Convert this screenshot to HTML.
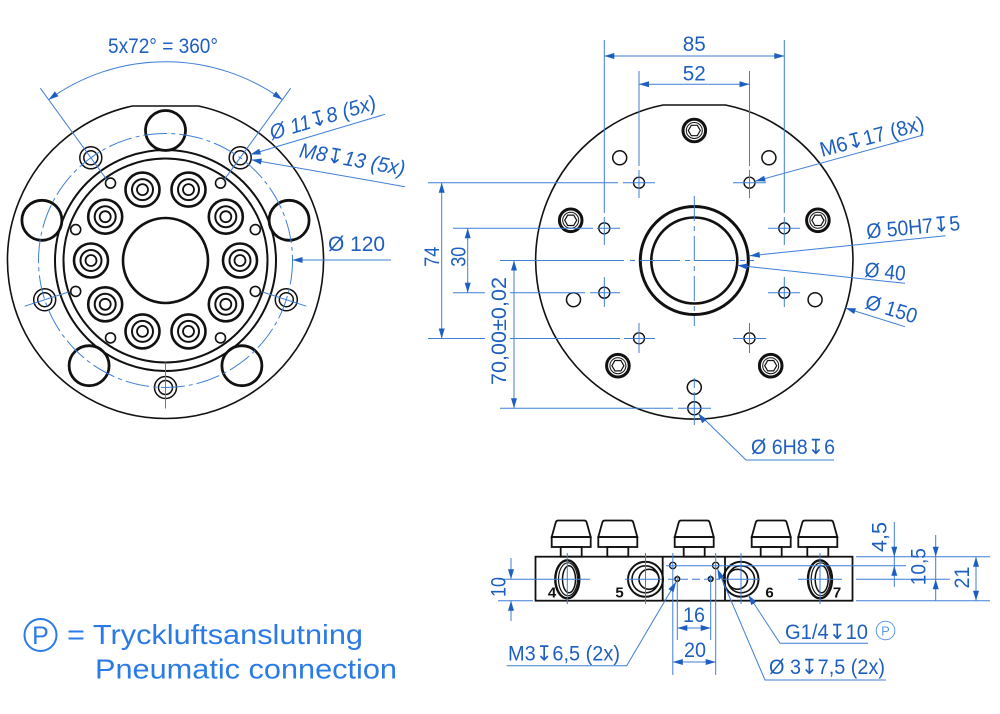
<!DOCTYPE html>
<html><head><meta charset="utf-8"><style>
html,body{margin:0;padding:0;background:#fff;}
svg{display:block;}
text{font-family:"Liberation Sans","DejaVu Sans",sans-serif;}
</style></head><body>
<svg width="1000" height="714" viewBox="0 0 1000 714" xmlns="http://www.w3.org/2000/svg">
<rect width="1000" height="714" fill="#fff"/>

<!-- ================= LEFT VIEW ================= -->
<g fill="none" stroke="#111">
  <path d="M132.4,106 L198.6,106 A158,158 0 1,1 132.4,106 Z" stroke-width="1.6"/>
  <circle cx="165.5" cy="260.5" r="110.5" stroke-width="2"/>
  <circle cx="165.5" cy="260.5" r="102" stroke-width="2"/>
  <circle cx="165.5" cy="260.5" r="42.5" stroke-width="2.6"/>
  <g stroke-width="2.8">
    <circle cx="165.5" cy="130.5" r="20"/>
    <circle cx="289.1" cy="220.3" r="20"/>
    <circle cx="241.9" cy="365.7" r="20"/>
    <circle cx="89.1" cy="365.7" r="20"/>
    <circle cx="41.9" cy="220.3" r="20"/>
  </g>
  <g stroke-width="1.5">
    <circle cx="240.2" cy="157.8" r="11"/><circle cx="240.2" cy="157.8" r="7"/>
    <circle cx="286.3" cy="299.7" r="11"/><circle cx="286.3" cy="299.7" r="7"/>
    <circle cx="165.5" cy="387.5" r="11"/><circle cx="165.5" cy="387.5" r="7"/>
    <circle cx="44.7" cy="299.7" r="11"/><circle cx="44.7" cy="299.7" r="7"/>
    <circle cx="90.8" cy="157.8" r="11"/><circle cx="90.8" cy="157.8" r="7"/>
  </g>
  <g stroke-width="1.6">
    <circle cx="255.3" cy="229.6" r="5"/><circle cx="255.3" cy="291.4" r="5"/>
    <circle cx="75.7" cy="229.6" r="5"/><circle cx="75.7" cy="291.4" r="5"/>
    <circle cx="220.5" cy="183.1" r="5"/><circle cx="110.5" cy="183.1" r="5"/>
    <circle cx="110.5" cy="337.9" r="5"/><circle cx="220.5" cy="337.9" r="5"/>
  </g>
  <g>
    <g transform="translate(240,260.5)"><circle r="17" stroke-width="2.6"/><circle r="10.5" stroke-width="2"/><circle r="5.5" stroke-width="1.8"/></g>
    <g transform="translate(225.8,216.7)"><circle r="17" stroke-width="2.6"/><circle r="10.5" stroke-width="2"/><circle r="5.5" stroke-width="1.8"/></g>
    <g transform="translate(188.5,189.6)"><circle r="17" stroke-width="2.6"/><circle r="10.5" stroke-width="2"/><circle r="5.5" stroke-width="1.8"/></g>
    <g transform="translate(142.5,189.6)"><circle r="17" stroke-width="2.6"/><circle r="10.5" stroke-width="2"/><circle r="5.5" stroke-width="1.8"/></g>
    <g transform="translate(105.2,216.7)"><circle r="17" stroke-width="2.6"/><circle r="10.5" stroke-width="2"/><circle r="5.5" stroke-width="1.8"/></g>
    <g transform="translate(91,260.5)"><circle r="17" stroke-width="2.6"/><circle r="10.5" stroke-width="2"/><circle r="5.5" stroke-width="1.8"/></g>
    <g transform="translate(105.2,304.3)"><circle r="17" stroke-width="2.6"/><circle r="10.5" stroke-width="2"/><circle r="5.5" stroke-width="1.8"/></g>
    <g transform="translate(142.5,331.4)"><circle r="17" stroke-width="2.6"/><circle r="10.5" stroke-width="2"/><circle r="5.5" stroke-width="1.8"/></g>
    <g transform="translate(188.5,331.4)"><circle r="17" stroke-width="2.6"/><circle r="10.5" stroke-width="2"/><circle r="5.5" stroke-width="1.8"/></g>
    <g transform="translate(225.8,304.3)"><circle r="17" stroke-width="2.6"/><circle r="10.5" stroke-width="2"/><circle r="5.5" stroke-width="1.8"/></g>
  </g>
</g>
<g fill="none" stroke="#3f7fd6" stroke-width="1">
  <circle cx="165.5" cy="260.5" r="127" stroke-dasharray="24 4 4 4"/>
  <line x1="224.3" y1="179.6" x2="290.7" y2="88.2"/>
  <line x1="106.7" y1="179.6" x2="40.3" y2="88.2"/>
  <line x1="262.5" y1="292" x2="306.3" y2="306.2"/>
  <line x1="68.5" y1="292" x2="24.7" y2="306.2"/>
  <line x1="165.5" y1="362.5" x2="165.5" y2="408.5"/>
  <path d="M48.6,99.7 A198.8,198.8 0 0,1 282.4,99.7"/>
  <line x1="292.5" y1="260" x2="391" y2="260"/>
  <line x1="250.5" y1="154.5" x2="385" y2="114.3"/>
  <line x1="251.5" y1="159.8" x2="405" y2="186.7"/>
</g>
<g fill="#1d5fc0" stroke="none">
  <polygon points="48.6,99.7 54.9,91.4 58.5,96.2"/>
  <polygon points="282.4,99.7 272.5,96.2 276.1,91.4"/>
  <polygon points="292.5,260 302.5,257 302.5,263"/>
  <polygon points="250.5,154.5 259.2,148.7 261,154.5"/>
  <polygon points="251.5,159.8 261.9,158.5 260.9,164.5"/>
</g>
<g fill="#1d5fc0" font-size="21">
  <text x="108" y="53" textLength="110" lengthAdjust="spacingAndGlyphs">5x72° = 360°</text>
  <text x="328" y="251" textLength="57" lengthAdjust="spacingAndGlyphs">Ø 120</text>
  <text transform="translate(272,140) rotate(-16.5)" font-style="italic" textLength="110" lengthAdjust="spacingAndGlyphs">Ø 11↧8 (5x)</text>
  <text transform="translate(298.5,157) rotate(10)" font-style="italic" textLength="107" lengthAdjust="spacingAndGlyphs">M8↧13 (5x)</text>
</g>

<!-- ================= RIGHT VIEW ================= -->
<g fill="none" stroke="#111">
  <path d="M663.1,105 L725.5,105 A158.6,158.6 0 1,1 663.1,105 Z" stroke-width="1.6"/>
  <circle cx="694.3" cy="260.5" r="54" stroke-width="3"/>
  <circle cx="694.3" cy="260.5" r="43" stroke-width="2.6"/>
  <g>
    <g transform="translate(694.3,130.5)"><circle r="11.3" stroke-width="3"/><circle r="8" stroke-width="1"/><polygon points="6,0 3,5.2 -3,5.2 -6,0 -3,-5.2 3,-5.2" stroke-width="1.2"/></g>
    <g transform="translate(817.9,220.3)"><circle r="11.3" stroke-width="3"/><circle r="8" stroke-width="1"/><polygon points="6,0 3,5.2 -3,5.2 -6,0 -3,-5.2 3,-5.2" stroke-width="1.2"/></g>
    <g transform="translate(770.7,365.7)"><circle r="11.3" stroke-width="3"/><circle r="8" stroke-width="1"/><polygon points="6,0 3,5.2 -3,5.2 -6,0 -3,-5.2 3,-5.2" stroke-width="1.2"/></g>
    <g transform="translate(617.9,365.7)"><circle r="11.3" stroke-width="3"/><circle r="8" stroke-width="1"/><polygon points="6,0 3,5.2 -3,5.2 -6,0 -3,-5.2 3,-5.2" stroke-width="1.2"/></g>
    <g transform="translate(570.7,220.3)"><circle r="11.3" stroke-width="3"/><circle r="8" stroke-width="1"/><polygon points="6,0 3,5.2 -3,5.2 -6,0 -3,-5.2 3,-5.2" stroke-width="1.2"/></g>
  </g>
  <g stroke-width="1.5">
    <circle cx="768.9" cy="157.8" r="7"/><circle cx="619.7" cy="157.8" r="7"/>
    <circle cx="815.1" cy="299.7" r="7"/><circle cx="573.5" cy="299.7" r="7"/>
    <circle cx="694.3" cy="387.3" r="7"/>
    <circle cx="694.3" cy="408.3" r="6.5"/>
  </g>
  <g stroke-width="1.4">
    <circle cx="639" cy="182.7" r="5.5"/><circle cx="749.5" cy="182.7" r="5.5"/>
    <circle cx="604.3" cy="228.3" r="5.5"/><circle cx="784.3" cy="228.3" r="5.5"/>
    <circle cx="604.3" cy="292.7" r="5.5"/><circle cx="784.3" cy="292.7" r="5.5"/>
    <circle cx="639" cy="338.3" r="5.5"/><circle cx="749.5" cy="338.3" r="5.5"/>
  </g>
</g>
<g fill="none" stroke="#3f7fd6" stroke-width="1">
  <line x1="604.3" y1="40" x2="604.3" y2="213"/><line x1="604.3" y1="217" x2="604.3" y2="245"/><line x1="604.3" y1="277" x2="604.3" y2="307"/>
  <line x1="784.3" y1="40" x2="784.3" y2="213"/><line x1="784.3" y1="217" x2="784.3" y2="245"/><line x1="784.3" y1="277" x2="784.3" y2="307"/>
  <line x1="639" y1="71" x2="639" y2="166"/><line x1="639" y1="170" x2="639" y2="198"/><line x1="639" y1="323" x2="639" y2="353"/>
  <line x1="749.5" y1="71" x2="749.5" y2="166"/><line x1="749.5" y1="170" x2="749.5" y2="198"/><line x1="749.5" y1="323" x2="749.5" y2="353"/>
  <line x1="428" y1="182.7" x2="618" y2="182.7"/><line x1="623" y1="182.7" x2="655" y2="182.7"/><line x1="733" y1="182.7" x2="766" y2="182.7"/>
  <line x1="453" y1="228.3" x2="593" y2="228.3"/><line x1="597" y1="228.3" x2="620" y2="228.3"/><line x1="768" y1="228.3" x2="800" y2="228.3"/>
  <line x1="453" y1="292.7" x2="485" y2="292.7"/><line x1="510" y1="292.7" x2="585" y2="292.7"/><line x1="590" y1="292.7" x2="620" y2="292.7"/><line x1="768" y1="292.7" x2="800" y2="292.7"/>
  <line x1="428" y1="338.5" x2="485" y2="338.5"/><line x1="510" y1="338.5" x2="620" y2="338.5"/><line x1="624" y1="338.5" x2="655" y2="338.5"/><line x1="733" y1="338.5" x2="766" y2="338.5"/>
  <line x1="500" y1="260.5" x2="624" y2="260.5"/>
  <line x1="630" y1="260.5" x2="754" y2="260.5" stroke-dasharray="5 5 40 5 5 5 40 5"/>
  <line x1="694.3" y1="196" x2="694.3" y2="326" stroke-dasharray="25 5 5 5"/>
  <line x1="500" y1="408.3" x2="673" y2="408.3"/><line x1="678" y1="408.3" x2="711" y2="408.3"/>
  <line x1="694.3" y1="378" x2="694.3" y2="388"/><line x1="694.3" y1="392" x2="694.3" y2="425"/>
  <line x1="604.3" y1="56" x2="784.3" y2="56"/>
  <line x1="639" y1="84.3" x2="749.5" y2="84.3"/>
  <line x1="441.7" y1="182.7" x2="441.7" y2="338.5"/>
  <line x1="467.7" y1="228.3" x2="467.7" y2="292.7"/>
  <line x1="514" y1="260.5" x2="514" y2="408.3"/>
  <line x1="755.3" y1="181.2" x2="923.3" y2="135"/>
  <line x1="749.8" y1="255.8" x2="945.5" y2="235.7"/>
  <line x1="737.5" y1="265.4" x2="905" y2="283.3"/>
  <line x1="845.6" y1="308.1" x2="905" y2="326.7"/>
  <polyline points="698.3,413.4 746,460 834,460"/>
</g>
<g fill="#1d5fc0" stroke="none">
  <polygon points="604.3,56 614.3,53 614.3,59"/><polygon points="784.3,56 774.3,53 774.3,59"/>
  <polygon points="639,84.3 649,81.3 649,87.3"/><polygon points="749.5,84.3 739.5,81.3 739.5,87.3"/>
  <polygon points="441.7,182.7 438.7,192.7 444.7,192.7"/><polygon points="441.7,338.5 438.7,328.5 444.7,328.5"/>
  <polygon points="467.7,228.3 464.7,238.3 470.7,238.3"/><polygon points="467.7,292.7 464.7,282.7 470.7,282.7"/>
  <polygon points="514,260.5 511,270.5 517,270.5"/><polygon points="514,408.3 511,398.3 517,398.3"/>
  <polygon points="755.3,181.2 764.1,175.7 765.7,181.5"/>
  <polygon points="749.8,255.8 759.4,251.8 760,257.8"/>
  <polygon points="737.5,265.4 747.7,263.5 747.1,269.5"/>
  <polygon points="845.6,308.1 856,308.2 854.2,314"/>
  <polygon points="698.3,413.4 706.9,419.4 702.1,423.2"/>
</g>
<g fill="#1d5fc0" font-size="21">
  <text x="694.3" y="51" text-anchor="middle" textLength="23" lengthAdjust="spacingAndGlyphs">85</text>
  <text x="694.3" y="80.5" text-anchor="middle" textLength="23" lengthAdjust="spacingAndGlyphs">52</text>
  <text transform="translate(439,256.7) rotate(-90)" text-anchor="middle" textLength="20" lengthAdjust="spacingAndGlyphs">74</text>
  <text transform="translate(465.5,256.7) rotate(-90)" text-anchor="middle" textLength="20" lengthAdjust="spacingAndGlyphs">30</text>
  <text transform="translate(506,331) rotate(-90)" text-anchor="middle" textLength="108" lengthAdjust="spacingAndGlyphs">70,00±0,02</text>
  <text transform="translate(822,157) rotate(-14.8)" textLength="107" lengthAdjust="spacingAndGlyphs">M6↧17 (8x)</text>
  <text transform="translate(867,238.5) rotate(-5.2)" textLength="94" lengthAdjust="spacingAndGlyphs">Ø 50H7↧5</text>
  <text transform="translate(864,276.5) rotate(6)" textLength="41" lengthAdjust="spacingAndGlyphs">Ø 40</text>
  <text transform="translate(864,308) rotate(17)" textLength="53" lengthAdjust="spacingAndGlyphs">Ø 150</text>
  <text x="751" y="454" textLength="84" lengthAdjust="spacingAndGlyphs">Ø 6H8↧6</text>
</g>

<!-- ================= SIDE VIEW ================= -->
<g fill="none" stroke="#111" stroke-width="1.8">
  <rect x="535.5" y="556.7" width="317" height="44"/>
  <line x1="662.7" y1="556.7" x2="662.7" y2="600.7"/>
  <line x1="725" y1="556.7" x2="725" y2="600.7"/>
  <g transform="translate(571.2,0)"><path d="M-19.5,537 L-15.5,522.5 Q-15,520.5 -13,520.5 L13,520.5 Q15,520.5 15.5,522.5 L19.5,537 Z"/><rect x="-19.5" y="537" width="39" height="10"/><rect x="-10.5" y="547" width="21" height="9.7"/></g>
  <g transform="translate(617.8,0)"><path d="M-19.5,537 L-15.5,522.5 Q-15,520.5 -13,520.5 L13,520.5 Q15,520.5 15.5,522.5 L19.5,537 Z"/><rect x="-19.5" y="537" width="39" height="10"/><rect x="-10.5" y="547" width="21" height="9.7"/></g>
  <g transform="translate(694.2,0)"><path d="M-19.5,537 L-15.5,522.5 Q-15,520.5 -13,520.5 L13,520.5 Q15,520.5 15.5,522.5 L19.5,537 Z"/><rect x="-19.5" y="537" width="39" height="10"/><rect x="-10.5" y="547" width="21" height="9.7"/></g>
  <g transform="translate(771.2,0)"><path d="M-19.5,537 L-15.5,522.5 Q-15,520.5 -13,520.5 L13,520.5 Q15,520.5 15.5,522.5 L19.5,537 Z"/><rect x="-19.5" y="537" width="39" height="10"/><rect x="-10.5" y="547" width="21" height="9.7"/></g>
  <g transform="translate(817.8,0)"><path d="M-19.5,537 L-15.5,522.5 Q-15,520.5 -13,520.5 L13,520.5 Q15,520.5 15.5,522.5 L19.5,537 Z"/><rect x="-19.5" y="537" width="39" height="10"/><rect x="-10.5" y="547" width="21" height="9.7"/></g>
  <ellipse cx="567.3" cy="579.3" rx="12" ry="19" stroke-width="2.4"/>
  <ellipse cx="568" cy="579.3" rx="9.5" ry="16.5" stroke-width="1.2"/>
  <ellipse cx="569" cy="579.3" rx="6.5" ry="13.5" stroke-width="1.5"/>
  <ellipse cx="820" cy="579.3" rx="12" ry="19" stroke-width="2.4"/>
  <ellipse cx="820.7" cy="579.3" rx="9.5" ry="16.5" stroke-width="1.2"/>
  <ellipse cx="821.7" cy="579.3" rx="6.5" ry="13.5" stroke-width="1.5"/>
  <circle cx="645.5" cy="579.3" r="17.5" stroke-width="2"/>
  <circle cx="645.5" cy="579.3" r="13.5" stroke-width="1.6"/>
  <circle cx="649" cy="579.3" r="10" stroke-width="1.6"/>
  <circle cx="741" cy="579.3" r="17.5" stroke-width="2"/>
  <circle cx="741" cy="579.3" r="13.5" stroke-width="1.6"/>
  <circle cx="737.5" cy="579.3" r="10" stroke-width="1.6"/>
  <circle cx="672.8" cy="565.5" r="3.2" stroke-width="1.3"/>
  <circle cx="715.7" cy="565.5" r="3.2" stroke-width="1.3"/>
  <circle cx="677.3" cy="579" r="2.3" stroke-width="1.6"/>
  <circle cx="710.7" cy="579" r="2.3" stroke-width="1.6"/>
</g>
<g fill="#111" font-size="15" font-weight="bold" text-anchor="middle">
  <text x="552" y="597.5">4</text>
  <text x="619.5" y="597.5">5</text>
  <text x="769.5" y="597.5">6</text>
  <text x="837" y="597.5">7</text>
</g>
<g fill="none" stroke="#3f7fd6" stroke-width="1">
  <line x1="567.3" y1="553" x2="567.3" y2="604"/>
  <line x1="645.5" y1="553" x2="645.5" y2="604"/>
  <line x1="741" y1="553" x2="741" y2="604"/>
  <line x1="820" y1="553" x2="820" y2="604"/>
  <line x1="498" y1="579.3" x2="590" y2="579.3"/>
  <line x1="625" y1="579.3" x2="662" y2="579.3"/>
  <line x1="668" y1="579.3" x2="720" y2="579.3" stroke-dasharray="8 4"/>
  <line x1="723" y1="579.3" x2="760" y2="579.3"/>
  <line x1="798" y1="579.3" x2="842" y2="579.3"/>
  <line x1="856" y1="579.3" x2="950" y2="579.3"/>
  <line x1="666" y1="565.7" x2="906" y2="565.7"/>
  <line x1="856" y1="556.7" x2="990" y2="556.7"/>
  <line x1="856" y1="600.7" x2="990" y2="600.7"/>
  <line x1="498" y1="600.7" x2="533" y2="600.7"/>
  <line x1="672.8" y1="553" x2="672.8" y2="675"/>
  <line x1="677.3" y1="575" x2="677.3" y2="640"/>
  <line x1="710.7" y1="575" x2="710.7" y2="640"/>
  <line x1="715.7" y1="553" x2="715.7" y2="675"/>
  <line x1="677.3" y1="628" x2="710.7" y2="628"/>
  <line x1="672.8" y1="662" x2="715.7" y2="662"/>
  <line x1="511" y1="558" x2="511" y2="579.3"/>
  <line x1="511" y1="600.7" x2="511" y2="621"/>
  <line x1="894.3" y1="522" x2="894.3" y2="587"/>
  <line x1="935.7" y1="535" x2="935.7" y2="600.7"/>
  <line x1="976" y1="556.7" x2="976" y2="600.7"/>
  <polyline points="676,582 626.7,665.7 506.7,665.7"/>
  <polyline points="748.3,595 780,643.3 868,643.3"/>
  <polyline points="717.5,569 765,680 886,680"/>
</g>
<g fill="#1d5fc0" stroke="none">
  <polygon points="511,579.3 508,569.3 514,569.3"/><polygon points="511,600.7 508,610.7 514,610.7"/>
  <polygon points="894.3,556.7 891.3,546.7 897.3,546.7"/><polygon points="894.3,565.7 891.3,575.7 897.3,575.7"/>
  <polygon points="935.7,556.7 932.7,546.7 938.7,546.7"/><polygon points="935.7,579.3 932.7,589.3 938.7,589.3"/>
  <polygon points="976,556.7 973,566.7 979,566.7"/><polygon points="976,600.7 973,590.7 979,590.7"/>
  <polygon points="677.3,628 687.3,625 687.3,631"/><polygon points="710.7,628 700.7,625 700.7,631"/>
  <polygon points="672.8,662 682.8,659 682.8,665"/><polygon points="715.7,662 705.7,659 705.7,665"/>
  <polygon points="676,582 673.6,592.1 668.4,589.1"/>
  <polygon points="748.3,595 756.3,601.8 751.3,605.1"/>
  <polygon points="717.5,569 724.2,577 718.6,579.4"/>
</g>
<g fill="#1d5fc0" font-size="21">
  <text transform="translate(505.5,587) rotate(-90)" text-anchor="middle" textLength="20" lengthAdjust="spacingAndGlyphs">10</text>
  <text transform="translate(886.5,537) rotate(-90)" text-anchor="middle" textLength="30" lengthAdjust="spacingAndGlyphs">4,5</text>
  <text transform="translate(925.5,566.7) rotate(-90)" text-anchor="middle" textLength="37" lengthAdjust="spacingAndGlyphs">10,5</text>
  <text transform="translate(969,577.5) rotate(-90)" text-anchor="middle" textLength="22" lengthAdjust="spacingAndGlyphs">21</text>
  <text x="694" y="622" text-anchor="middle" textLength="22" lengthAdjust="spacingAndGlyphs">16</text>
  <text x="695" y="657" text-anchor="middle" textLength="22" lengthAdjust="spacingAndGlyphs">20</text>
  <text x="508" y="660.5" textLength="112" lengthAdjust="spacingAndGlyphs">M3↧6,5 (2x)</text>
  <text x="785" y="639" textLength="83" lengthAdjust="spacingAndGlyphs">G1/4↧10</text>
  <text x="769" y="674" textLength="116" lengthAdjust="spacingAndGlyphs">Ø 3↧7,5 (2x)</text>
</g>
<circle cx="885.5" cy="630.5" r="9.3" fill="none" stroke="#5f9ae6" stroke-width="1"/>
<text x="885.5" y="635.5" text-anchor="middle" font-size="13" fill="#5f9ae6">P</text>

<!-- ================= LEGEND ================= -->
<circle cx="40.5" cy="635" r="16" fill="none" stroke="#2b7be6" stroke-width="2"/>
<text x="40.5" y="644" text-anchor="middle" font-size="25" fill="#2b7be6">P</text>
<text x="67" y="644" font-size="28" fill="#2b7be6" textLength="296" lengthAdjust="spacingAndGlyphs">= Tryckluftsanslutning</text>
<text x="95" y="678.5" font-size="28" fill="#2b7be6" textLength="302" lengthAdjust="spacingAndGlyphs">Pneumatic connection</text>
</svg>
</body></html>
